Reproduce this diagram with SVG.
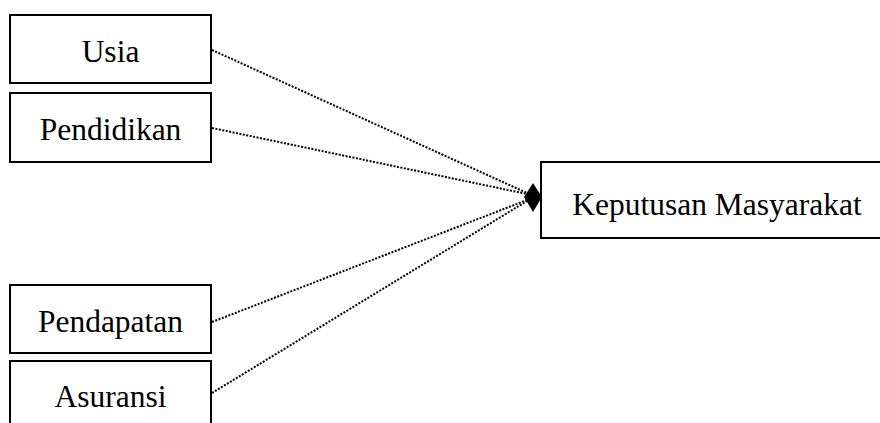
<svg xmlns="http://www.w3.org/2000/svg" width="880" height="423" viewBox="0 0 880 423">
<style>
.box{fill:#fff;stroke:#000;stroke-width:2}
.lbl{font-family:"Liberation Serif","Times New Roman",serif;font-size:31.5px;fill:#000;text-anchor:middle}
.con{fill:none;stroke:#000;stroke-width:2;stroke-dasharray:2 1.5}
</style>
<rect width="880" height="423" fill="#fff"/>
<g id="connectors">
<line class="con" x1="212" y1="50" x2="527" y2="193"/>
<line class="con" x1="212" y1="128" x2="527" y2="194"/>
<line class="con" x1="212" y1="322" x2="527" y2="200"/>
<line class="con" x1="212" y1="393" x2="527" y2="201"/>
<polygon points="533,183 542,197 533,212 524,197" fill="#000"/>
</g>
<g id="usia"><rect class="box" x="10" y="15" width="201" height="68"/><text class="lbl" x="110.5" y="62">Usia</text></g>
<g id="pendidikan"><rect class="box" x="10" y="93" width="201" height="69"/><text class="lbl" x="110.5" y="140">Pendidikan</text></g>
<g id="pendapatan"><rect class="box" x="10" y="285" width="201" height="68"/><text class="lbl" x="110.5" y="332">Pendapatan</text></g>
<g id="asuransi"><rect class="box" x="10" y="361" width="201" height="80"/><text class="lbl" x="110.5" y="407">Asuransi</text></g>
<g id="keputusan"><rect class="box" x="541" y="162" width="360" height="76"/><text class="lbl" x="717" y="215">Keputusan Masyarakat</text></g>
</svg>
